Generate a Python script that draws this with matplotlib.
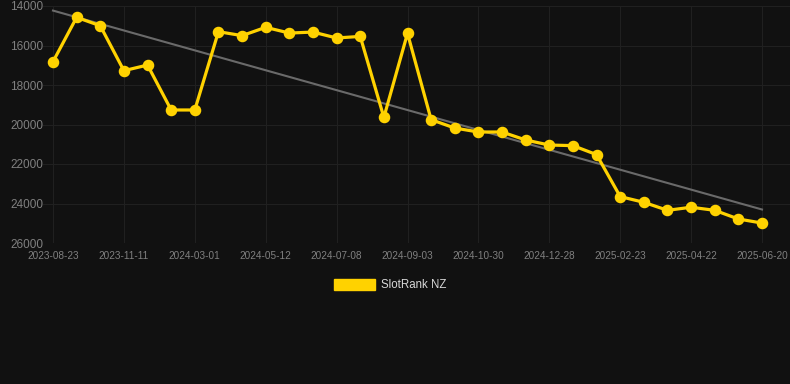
import matplotlib
matplotlib.use("Agg")
import matplotlib.pyplot as plt
from matplotlib.patches import Patch
import numpy as np

plt.rcParams['font.family'] = ['Liberation Sans', 'DejaVu Sans']

# Data
tick_labels = ["2023-08-23", "2023-11-11", "2024-03-01", "2024-05-12", "2024-07-08",
               "2024-09-03", "2024-10-30", "2024-12-28", "2025-02-23", "2025-04-22",
               "2025-06-20"]
rank_values = [16820, 14575, 15000, 17275, 16990, 19265, 19265, 15300, 15500, 15080,
               15370, 15320, 15620, 15540, 19640, 15385, 19755, 20180, 20380, 20380,
               20785, 21040, 21070, 21525, 23650, 23940, 24345, 24190, 24345, 24785,
               24990]
y_ticks = [14000, 16000, 18000, 20000, 22000, 24000, 26000]
series_name = "SlotRank NZ"

BG = "#111111"
GOLD = "#FFD200"
GRID = "#202020"
TICK = "#808080"

W, H = 790, 384
fig = plt.figure(figsize=(W / 100, H / 100), dpi=100, facecolor=BG)
ax = fig.add_axes([43 / W, 1 - 243 / H, (790 - 43) / W, (243 - 6) / H])
ax.set_facecolor(BG)

x = np.arange(len(rank_values))
# trend line (linear regression)
coef = np.polyfit(x, rank_values, 1)
ax.plot(x, np.polyval(coef, x), color="#6a6a6a", lw=1.5, zorder=2)
ax.plot(x, rank_values, color=GOLD, lw=2.3, marker="o", ms=7.3,
        markerfacecolor=GOLD, markeredgecolor=GOLD, zorder=3, solid_joinstyle="round")

step = 3
ax.set_xticks(x[::step])
ax.set_xticklabels(tick_labels, fontsize=7.2, color=TICK)
ax.set_yticks(y_ticks)
ax.set_yticklabels([str(v) for v in y_ticks], fontsize=8.5, color=TICK)

px = (762 - 53) / (len(rank_values) - 1)
ax.set_xlim(-(53 - 43) / px, len(rank_values) - 1 + (790 - 762) / px)
ax.set_ylim(26000, 14000)

ax.grid(True, color=GRID, lw=0.8)
ax.set_axisbelow(True)
for s in ax.spines.values():
    s.set_visible(False)
ax.tick_params(axis="x", length=0, pad=6)
ax.tick_params(axis="y", length=0, pad=0)

fig.legend(handles=[Patch(facecolor=GOLD, edgecolor=GOLD)], labels=[series_name],
           loc="center", bbox_to_anchor=(390 / W, 1 - 285 / H), frameon=False,
           fontsize=8.3, labelcolor="#d8d8d8", handlelength=3.6, handleheight=1.1,
           handletextpad=0.5)

fig.savefig("out.png", dpi=100, facecolor=BG)
